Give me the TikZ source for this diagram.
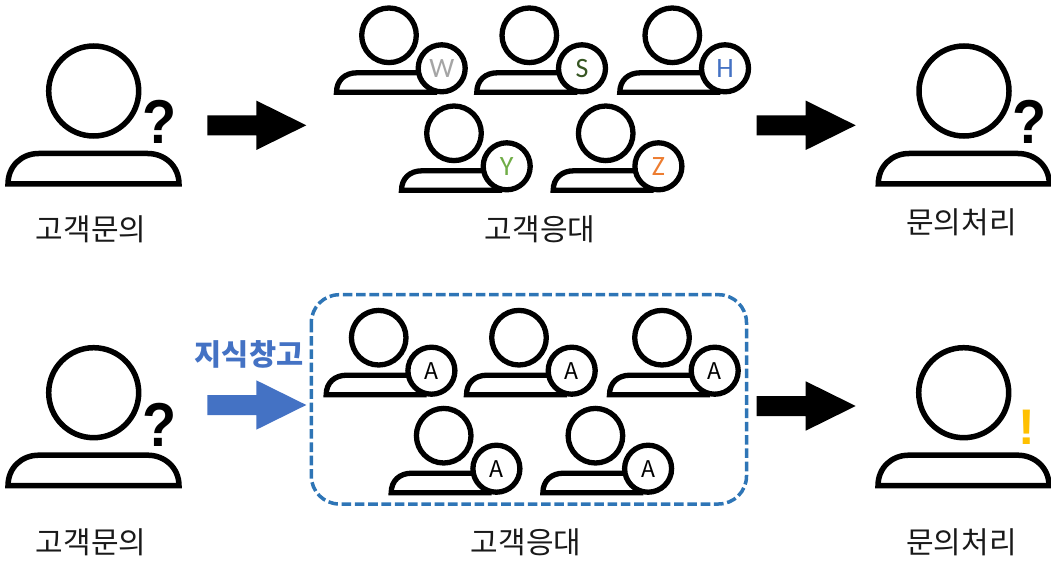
\documentclass[tikz,border=0pt]{standalone}
\usepackage{fontspec}
\setmainfont{Noto Sans CJK KR}
\newfontfamily\latinfont{Carlito}
\newfontfamily\punctfont{Liberation Sans}
\definecolor{kblue}{HTML}{4472C4}
\definecolor{kdash}{HTML}{2E75B6}
\definecolor{kgold}{HTML}{FFC000}
\definecolor{kgray}{HTML}{A5A5A5}
\definecolor{kdkgreen}{HTML}{375623}
\definecolor{kgreen}{HTML}{70AD47}
\definecolor{korange}{HTML}{ED7D31}
\tikzset{
  x=1pt,y=-1pt,
  bigline/.style={draw=black,line width=5.5pt,fill=white},
  smallline/.style={draw=black,line width=5.3pt,fill=white},
  caption/.style={inner sep=0pt,font=\fontsize{30}{33}\selectfont,text=black!90},
  punct/.style={inner sep=0pt,transform shape,xscale=.9,font=\punctfont\fontsize{62}{64}\selectfont\bfseries},
  pics/bigperson/.style={code={
    \draw[bigline] (0,0) circle[radius=45];
    \draw[bigline,line join=miter] (-85.7,93) .. controls (-85.7,75) and (-72,62.5) .. (-55,62.5)
      -- (54,62.5) .. controls (71,62.5) and (85.3,75) .. (85.3,93) -- cycle;
  }},
  pics/smallperson/.style n args={2}{code={
    \draw[smallline] (0,0) circle[radius=27.3];
    \draw[smallline,fill=none] (48,57) -- (-52.5,57) .. controls (-52.5,45) and (-44,37.5) .. (-32,37.5) -- (48,37.5);
    \node[circle,smallline,minimum size=47pt,inner sep=0pt,text=#2] at (52.7,33) {#1};
  }}
}
\newcommand{\blockarr}[3][black]{%
  \fill[#1] (#2,#3-10) -- (#2+49,#3-10) -- (#2+49,#3-24.7) -- (#2+99,#3) -- (#2+49,#3+24.7) -- (#2+49,#3+10) -- (#2,#3+10) -- cycle;}
\newcommand{\ltr}[1]{{\latinfont\fontsize{28}{30}\selectfont #1}}
\newcommand{\ltrA}{{\fontsize{23}{25}\selectfont A}}
\begin{document}
\begin{tikzpicture}
\useasboundingbox (0,0) rectangle (1051,561);
% top row
\pic at (93.7,91) {bigperson};
\node[punct] (q1) at (160,121.5) {?};
\blockarr{207.3}{125.3}
\pic at (389,35.3) {smallperson={\ltr{W}}{kgray}};
\pic at (529.3,35.3) {smallperson={\ltr{S}}{kdkgreen}};
\pic at (672.3,35.3) {smallperson={\ltr{H}}{kblue}};
\pic at (454,133.3) {smallperson={\ltr{Y}}{kgreen}};
\pic at (605.7,133.3) {smallperson={\ltr{Z}}{korange}};
\blockarr{756.7}{125.3}
\pic at (964,91) {bigperson};
\node[punct] (q2) at (1030,121.5) {?};
\node[caption] (t1) at (91,229) {고객문의};
\node[caption] (t2) at (540,229) {고객응대};
\node[caption] (t3) at (961.5,222) {문의처리};
% bottom row
\pic at (93.7,392.7) {bigperson};
\node[punct] (q3) at (160,424.5) {?};
\node[inner sep=0pt,text=kblue,font=\fontsize{29.5}{33}\selectfont\bfseries] (k) at (249,354) {지식창고};
\blockarr[kblue]{207.3}{405}
\draw[kdash,line width=3.5pt,dash pattern=on 9.6pt off 3.7pt,rounded corners=28pt] (311.3,294.7) rectangle (746.5,504);
\pic at (378.7,337.7) {smallperson={\ltrA}{black}};
\pic at (519,337.7) {smallperson={\ltrA}{black}};
\pic at (662,337.7) {smallperson={\ltrA}{black}};
\pic at (443.7,435.7) {smallperson={\ltrA}{black}};
\pic at (595.4,435.7) {smallperson={\ltrA}{black}};
\blockarr{756.7}{406}
\pic at (963.7,392.7) {bigperson};
\node[inner sep=0pt,font=\punctfont\fontsize{50}{52}\selectfont\bfseries,text=kgold] (ex) at (1027,427) {!};
\node[caption] (t4) at (91,542) {고객문의};
\node[caption] (t5) at (526,542) {고객응대};
\node[caption] (t6) at (961.5,542) {문의처리};
\end{tikzpicture}
\end{document}
